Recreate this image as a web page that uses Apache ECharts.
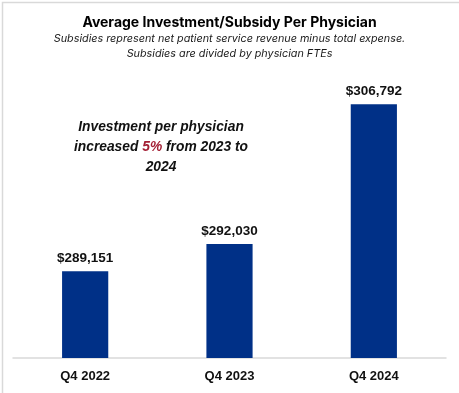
<!DOCTYPE html>
<html><head><meta charset="utf-8">
<script src="https://cdn.jsdelivr.net/npm/echarts@6/dist/echarts.min.js"></script>
<style>html,body{margin:0;padding:0;background:#fff}#c{width:459px;height:393px}</style>
</head><body><div id="c"></div>
<script>
const categories = ['Q4 2022', 'Q4 2023', 'Q4 2024'];
const values = [289151, 292030, 306792];
const titleText = 'Average Investment/Subsidy Per Physician';
const subtitleLines = ['Subsidies represent net patient service revenue minus total expense.', 'Subsidies are divided by physician FTEs'];

const chart = echarts.init(document.getElementById('c'), null, {renderer: 'canvas'});
const fmt = v => '$' + v.toLocaleString('en-US');
chart.setOption({
  animation: false,
  backgroundColor: '#fff',
  title: [{
    text: titleText, left: 'center', top: 11,
    textStyle: {fontFamily: 'Inter', fontWeight: 'bold', fontSize: 14, color: '#000'}
  }, {
    text: subtitleLines.join('\n'), left: 'center', top: 26,
    textStyle: {fontFamily: 'Inter', fontStyle: 'italic', fontWeight: 'normal', fontSize: 10.8, color: '#1a1a1a', lineHeight: 15}
  }],
  grid: {left: 13, right: 13, top: 74, bottom: 35, containLabel: false},
  xAxis: {
    type: 'category', data: categories,
    axisLine: {lineStyle: {color: '#d9d9d9', width: 1.5}},
    axisTick: {show: false},
    axisLabel: {fontFamily: 'Liberation Sans', fontWeight: 'bold', fontSize: 13, color: '#111', margin: 12}
  },
  yAxis: {type: 'value', min: 280000, max: 310000, show: false, splitLine: {show: false}},
  series: [{
    type: 'bar', data: values, barWidth: '32%',
    itemStyle: {color: '#003087'},
    label: {show: true, position: 'top', distance: 6, formatter: p => fmt(p.value),
      fontFamily: 'Liberation Sans', fontWeight: 'bold', fontSize: 13.5, color: '#111'}
  }],
  graphic: [{
    type: 'rect', left: 0, top: 0, silent: true,
    shape: {x: 0.75, y: 0.75, width: 457.5, height: 391.5},
    style: {fill: 'none', stroke: '#d9d9d9', lineWidth: 1.5}
  }, {
    type: 'text', x: 161, y: 117, silent: true,
    style: {
      text: 'Investment per physician\nincreased {r|5%} from 2023 to\n2024',
      align: 'center',
      font: 'italic bold 13.8px "Liberation Sans"', fill: '#111', lineHeight: 20,
      rich: {r: {fill: '#a31f34', font: 'italic bold 13.8px "Liberation Sans"'}}
    }
  }]
});
</script></body></html>
